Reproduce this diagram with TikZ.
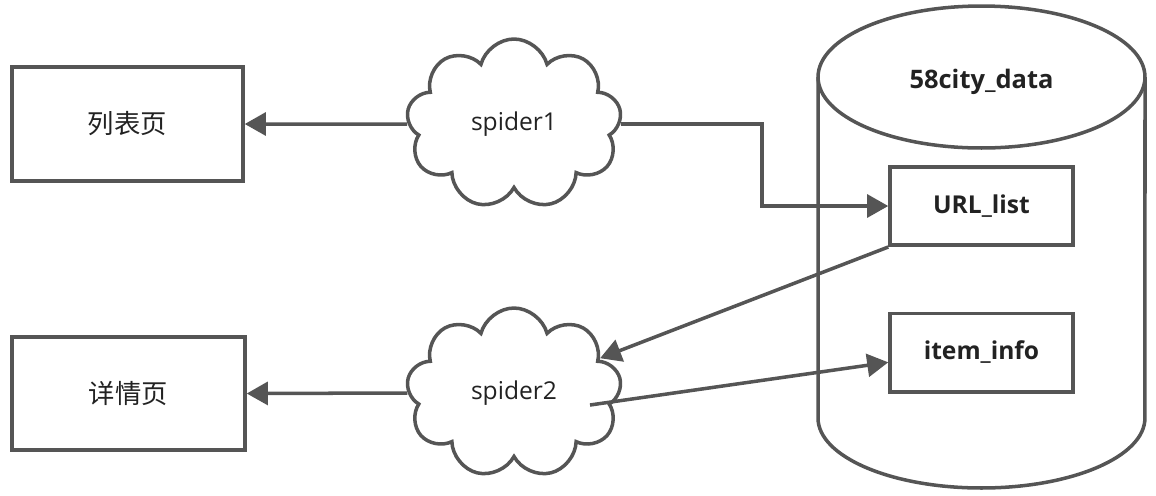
\documentclass[tikz,border=0pt]{standalone}
\usepackage{fontspec}
\setmainfont{Open Sans}
\newfontfamily\cjk{Noto Sans CJK SC}
\usetikzlibrary{shapes.symbols,arrows.meta,calc}
\definecolor{edgegray}{HTML}{555555}
\definecolor{textgray}{HTML}{222222}

\begin{document}
\begin{tikzpicture}[x=0.02cm,y=-0.02cm,
  pagebox/.style={draw=edgegray,line width=2pt,minimum width=4.62cm,minimum height=2.28cm,font=\cjk\fontsize{15}{18}\selectfont,text=textgray},
  spider/.style={cloud,cloud puffs=9,aspect=1.2,draw=edgegray,line width=2pt,minimum width=4.3cm,minimum height=3.4cm,font=\fontsize{14}{17}\selectfont,text=textgray},
  tablebox/.style={draw=edgegray,line width=2pt,minimum width=3.66cm,minimum height=1.57cm,font=\bfseries\fontsize{14}{17}\selectfont,text=textgray},
  flow/.style={draw=edgegray,line width=2pt,-{Triangle[length=12pt,width=13pt]}}]
\useasboundingbox (0,0) rectangle (1156,495);
% database
\draw[edgegray,line width=2pt] (818,77) -- (818,418) arc[start angle=180,end angle=360,x radius=3.27cm,y radius=1.4cm] -- (1145,77);
\draw[edgegray,line width=2pt] (981.5,77) ellipse[x radius=3.27cm,y radius=1.42cm];
\node[font=\bfseries\fontsize{14.5}{17}\selectfont,text=textgray] (db) at (981.5,82) {58city\_data};
\node[tablebox] (url) at (981.5,206) {URL\_list};
\node[tablebox] (item) at (981.5,352.5) {item\_info};
% pages
\node[pagebox] (list) at (127.5,124) {列表页};
\node[pagebox,minimum width=4.66cm,minimum height=2.26cm] (detail) at (128.5,393.5) {详情页};
% spiders
\node[spider] (s1) at (514,124) {spider1};
\node[spider] (s2) at (514,393) {spider2};
\draw[flow] (s1.west) -- (list.east);
\draw[flow] (s1.east) -- ++(141,0) |- (url.west);
\draw[flow] (url.south west) -- (s2.22);
\draw[flow] ($(s2.center)+(76,12)$) -- (item.186);
\draw[flow] (s2.west) -- (detail.east);
\end{tikzpicture}
\end{document}
